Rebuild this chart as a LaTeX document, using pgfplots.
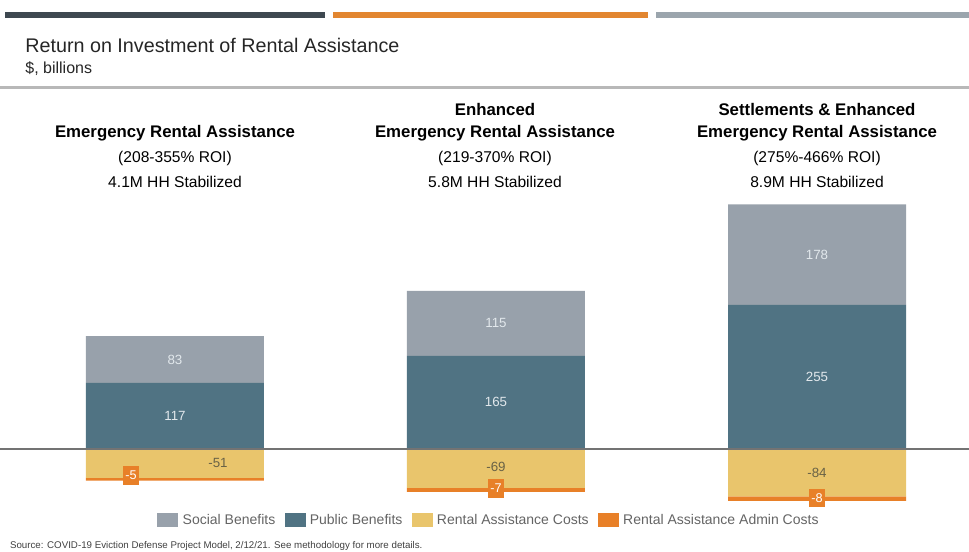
\documentclass[border=0pt]{standalone}
\usepackage{pgfplots}
\usepackage{pgfplotstable}
\pgfplotsset{compat=1.18}
\usepackage{fontspec}
\setmainfont{Liberation Sans}

\definecolor{socialc}{RGB}{152,161,171}
\definecolor{publicc}{RGB}{80,115,131}
\definecolor{rentc}{RGB}{233,197,108}
\definecolor{adminc}{RGB}{232,128,40}
\definecolor{topdark}{RGB}{62,72,80}
\definecolor{toporange}{RGB}{226,134,48}
\definecolor{topgray}{RGB}{155,165,173}
\definecolor{labc}{RGB}{226,232,236}
\definecolor{costlab}{RGB}{105,98,70}
\definecolor{legtext}{RGB}{100,100,100}

% values, $ billions
\pgfplotstableread{
x public social
0 117 83
1 165 115
2 255 178
}\benefits
\pgfplotstableread{
x rent admin
0 -51 -5
1 -69 -7
2 -84 -8
}\costs
% label positions
\pgfplotstableread{
x y lab
0 58.5 117
1 82.5 165
2 127.5 255
0 158.5 83
1 222.5 115
2 344 178
}\poslabels
\pgfplotstableread{
x y lab
0.134 -24 -51
1 -32 -69
2 -42 -84
}\costlabels
\pgfplotstableread{
x y lab
-0.137 -47 -5
1 -70 -7
2 -87 -8
}\adminlabels

\pgfplotsset{
  roibase/.style={
    at={(0pt,30.64pt)}, anchor=south west,
    scale only axis, width=726.75pt, height=241.5pt,
    xmin=-0.545, xmax=2.4735, ymin=-110, ymax=460,
    hide axis, clip=false,
  },
}

\newcommand{\hdr}[4][]{\node[anchor=center, font=\fontsize{11.7}{14}\selectfont#1] at (#2pt,#3pt) {#4};}
\newcommand{\bhdr}{\fontsize{12.6}{15}\selectfont\bfseries}

\begin{document}
\begin{tikzpicture}
\useasboundingbox (0,0) rectangle (726.75pt,414pt);

% top strips and title
\fill[topdark] (3.75pt,400.5pt) rectangle (243.75pt,405pt);
\fill[toporange] (249.75pt,400.5pt) rectangle (486pt,405pt);
\fill[topgray] (492pt,400.5pt) rectangle (726.75pt,405pt);
\node[anchor=west, font=\fontsize{14.8}{17}\selectfont, text=black!85] at (15.5pt,380pt) {Return on Investment of Rental Assistance};
\node[anchor=west, font=\fontsize{12}{14}\selectfont, text=black!85] at (15.5pt,362.5pt) {\$, billions};
\fill[black!28] (0pt,347pt) rectangle (726.75pt,349.25pt);

% positive stack
\begin{axis}[roibase, ybar stacked, bar width=133.5pt]
\addplot[fill=publicc, draw=none] table[x=x, y=public] {\benefits};
\addplot[fill=socialc, draw=none] table[x=x, y=social] {\benefits};
\end{axis}

% negative stack
\begin{axis}[roibase, ybar stacked, bar width=133.5pt]
\addplot[fill=rentc, draw=none] table[x=x, y=rent] {\costs};
\addplot[fill=adminc, draw=none] table[x=x, y=admin] {\costs};
\end{axis}

% zero line, labels, legend
\begin{axis}[roibase,
  legend columns=-1,
  legend style={at={(0.505,-0.0273)}, anchor=center, draw=none, fill=none,
    font=\fontsize{10.5}{12}\selectfont, text=legtext,
    /tikz/every odd column/.append style={column sep=1.5pt},
    /tikz/every even column/.append style={column sep=5pt}},
  legend image code/.code={\fill[#1] (0pt,-5pt) rectangle (15pt,5pt);},
  ]
\addlegendimage{socialc}\addlegendentry{Social Benefits}
\addlegendimage{publicc}\addlegendentry{Public Benefits}
\addlegendimage{rentc}\addlegendentry{Rental Assistance Costs}
\addlegendimage{adminc}\addlegendentry{Rental Assistance Admin Costs}
\addplot[forget plot, black!55, line width=1pt, mark=none] coordinates {(-0.545,0) (2.4735,0)};
\addplot[forget plot, draw=none, mark=none, nodes near coords, point meta=explicit symbolic,
  every node near coord/.append style={anchor=center, text=labc, font=\fontsize{10}{12}\selectfont}]
  table[x=x, y=y, meta=lab] {\poslabels};
\addplot[forget plot, draw=none, mark=none, nodes near coords, point meta=explicit symbolic,
  every node near coord/.append style={anchor=center, text=costlab, font=\fontsize{10}{12}\selectfont}]
  table[x=x, y=y, meta=lab] {\costlabels};
\addplot[forget plot, draw=none, mark=none, nodes near coords, point meta=explicit symbolic,
  every node near coord/.append style={anchor=center, text=white, fill=adminc, inner sep=1.5pt,
    minimum width=11pt, minimum height=14pt, font=\fontsize{9.5}{11}\selectfont}]
  table[x=x, y=y, meta=lab] {\adminlabels};
\end{axis}

% column headers
\hdr[\bhdr]{131.25}{314.25}{Emergency Rental Assistance}
\hdr{131.25}{295.5}{(208-355\% ROI)}
\hdr{131.25}{277.5}{4.1M HH Stabilized}
\hdr[\bhdr]{371.25}{331.5}{Enhanced}
\hdr[\bhdr]{371.25}{314.25}{Emergency Rental Assistance}
\hdr{371.25}{295.5}{(219-370\% ROI)}
\hdr{371.25}{277.5}{5.8M HH Stabilized}
\hdr[\bhdr]{612.75}{331.5}{Settlements \& Enhanced}
\hdr[\bhdr]{612.75}{314.25}{Emergency Rental Assistance}
\hdr{612.75}{295.5}{(275\%-466\% ROI)}
\hdr{612.75}{277.5}{8.9M HH Stabilized}

\node[anchor=west, font=\fontsize{7.3}{9}\selectfont, text=black!75] at (4pt,4.5pt)
  {Source: COVID-19 Eviction Defense Project Model, 2/12/21. See methodology for more details.};
\end{tikzpicture}
\end{document}
